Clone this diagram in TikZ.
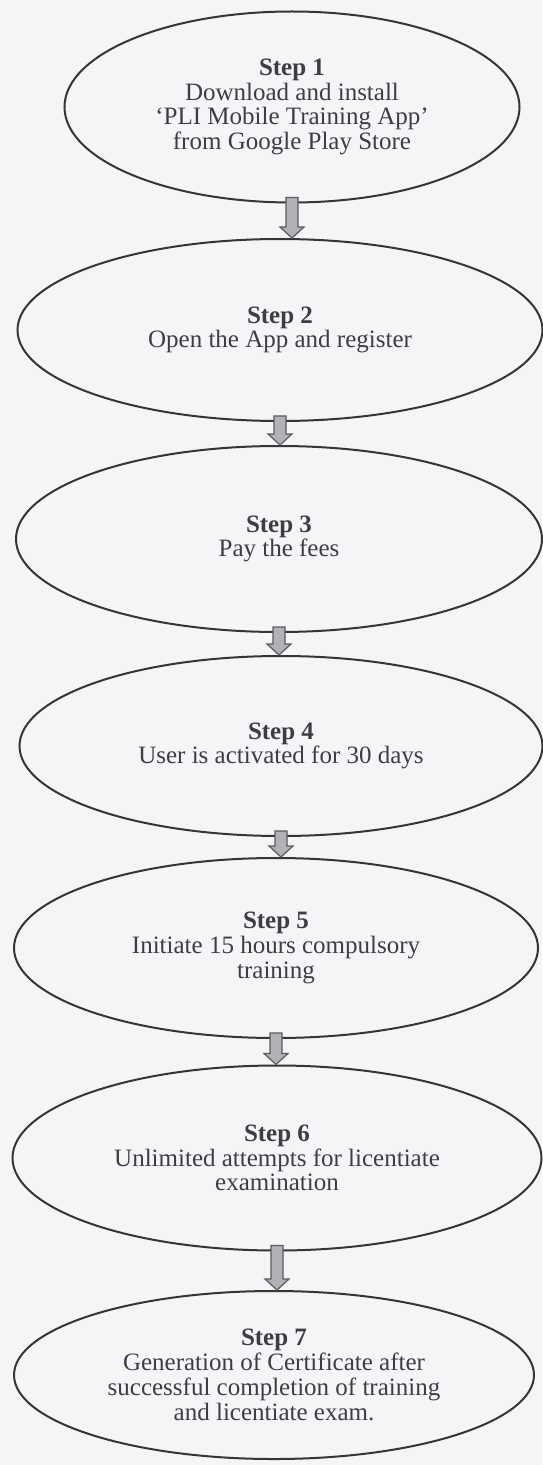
\documentclass[tikz,border=0pt]{standalone}
\usepackage{fontspec}
\setmainfont{Liberation Serif}
\usepackage{tikz}
\usetikzlibrary{shapes.geometric,calc}

\definecolor{paper}{RGB}{245,245,248}
\definecolor{ink}{RGB}{62,62,66}
\definecolor{arrowgray}{RGB}{178,178,182}

\tikzset{
  stepellipse/.style={ellipse, draw=ink!85!black, line width=1pt, inner sep=0pt,
    align=center, text=ink, font=\fontsize{12.5}{12.4}\selectfont},
  blockarrow/.style={fill=arrowgray, draw=ink!85, line width=0.6pt, line join=miter}
}

\begin{document}
\begin{tikzpicture}[x=0.5pt,y=-0.5pt]

% Background
\fill[paper] (0,0) rectangle (542,1465);
\useasboundingbox (0,0) rectangle (542,1465);

% Steps
\node[stepellipse, minimum width=227.5pt, minimum height=95.5pt] (s1) at (292,107)
  {\textbf{Step 1}\\Download and install\\`PLI Mobile Training App'\\from Google Play Store};
\node[stepellipse, minimum width=262.5pt, minimum height=91pt] (s2) at (280,330)
  {\textbf{Step 2}\\Open the App and register};
\node[stepellipse, minimum width=263pt, minimum height=93pt] (s3) at (279,539)
  {\textbf{Step 3}\\Pay the fees};
\node[stepellipse, minimum width=261.5pt, minimum height=90pt] (s4) at (281,746)
  {\textbf{Step 4}\\User is activated for 30 days};
\node[stepellipse, minimum width=262pt, minimum height=90pt] (s5) at (276,948)
  {\textbf{Step 5}\\Initiate 15 hours compulsory\\training};
\node[stepellipse, minimum width=264.5pt, minimum height=92.5pt] (s6) at (277,1158)
  {\textbf{Step 6}\\Unlimited attempts for licentiate\\examination};
\node[stepellipse, minimum width=260pt, minimum height=84pt] (s7) at (274,1375)
  {\textbf{Step 7}\\Generation of Certificate after\\successful completion of training\\and licentiate exam.};

% Arrows
\foreach \a/\b in {s1/s2, s2/s3, s3/s4, s4/s5, s5/s6, s6/s7}{
  \filldraw[blockarrow]
    ($(\a.south)+(-6,-6)$) -- ($(\a.south)+(6,-6)$)
    -- ($(\a.south |- \b.north)+(6,-11)$) -- ($(\a.south |- \b.north)+(12,-11)$)
    -- (\a.south |- \b.north)
    -- ($(\a.south |- \b.north)+(-12,-11)$) -- ($(\a.south |- \b.north)+(-6,-11)$) -- cycle;
}

\end{tikzpicture}
\end{document}
